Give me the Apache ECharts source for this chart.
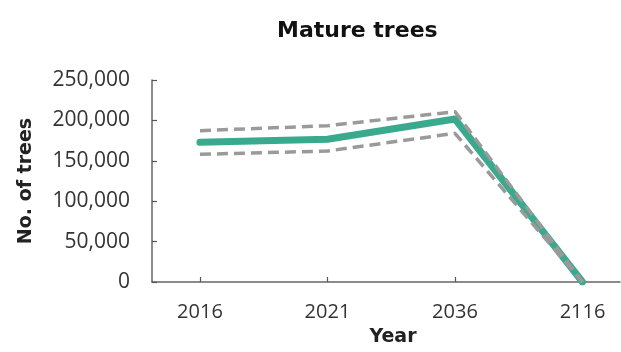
<!DOCTYPE html>
<html>
<head>
<meta charset="utf-8">
<script src="https://cdn.jsdelivr.net/npm/echarts@6/dist/echarts.min.js"></script>
<style>html,body{margin:0;padding:0;background:#fff}#c{width:621px;height:352px}</style>
</head>
<body>
<div id="c"></div>
<script>
var years = ['2016', '2021', '2036', '2116'];
var central = [172900, 176600, 201700, 0];
var upper = [187300, 193400, 210800, 0];
var lower = [158000, 162100, 184000, 0];
var yTicks = [0, 50000, 100000, 150000, 200000, 250000];

function pairs(arr) { return arr.map(function (v, i) { return [i, v]; }); }

var chart = echarts.init(document.getElementById('c'), null, { renderer: 'canvas' });
chart.setOption({
  animation: false,
  backgroundColor: '#fff',
  title: {
    text: 'Mature trees',
    left: 272, top: 15,
    textStyle: { fontFamily: 'DejaVu Sans', fontWeight: 'bold', fontSize: 22, color: '#111' }
  },
  grid: { left: 152, right: 1, top: 80, bottom: 70 },
  xAxis: {
    type: 'value', min: -0.376, max: 3.294,
    name: 'Year', nameLocation: 'middle', nameGap: 46,
    nameTextStyle: { fontFamily: 'DejaVu Sans', fontWeight: 'bold', fontSize: 19, color: '#222', padding: [0, 0, 0, 14] },
    splitLine: { show: false },
    axisLine: { show: true, onZero: false, lineStyle: { color: '#666', width: 1.5 } },
    axisTick: { show: true, inside: true, length: 5, customValues: [0, 1, 2, 3], lineStyle: { color: '#555', width: 1.2 } },
    axisLabel: {
      customValues: [0, 1, 2, 3], margin: 20,
      fontFamily: 'Open Sans', fontSize: 20, color: '#333',
      formatter: function (v) { return years[Math.round(v)]; }
    }
  },
  yAxis: {
    type: 'value', min: 0, max: 250000, interval: 50000,
    name: 'No. of trees', nameLocation: 'middle', nameGap: 116,
    nameTextStyle: { fontFamily: 'DejaVu Sans', fontWeight: 'bold', fontSize: 19, color: '#222' },
    splitLine: { show: false },
    axisLine: { show: true, onZero: false, lineStyle: { color: '#666', width: 1.5 } },
    axisTick: { show: true, inside: true, length: 5, lineStyle: { color: '#555', width: 1.2 } },
    axisLabel: {
      margin: 22, fontFamily: 'Open Sans', fontSize: 21, color: '#333',
      formatter: function (v) { return v.toLocaleString('en-US'); }
    }
  },
  series: [
    {
      type: 'line', data: pairs(central), symbol: 'none', z: 2,
      lineStyle: { color: '#3aaa8e', width: 7, cap: 'round', join: 'round' }
    },
    {
      type: 'line', data: pairs(upper), symbol: 'none', z: 3,
      lineStyle: { color: '#9a9a9a', width: 3.5, type: [11, 6] }
    },
    {
      type: 'line', data: pairs(lower), symbol: 'none', z: 3,
      lineStyle: { color: '#9a9a9a', width: 3.5, type: [11, 6] }
    }
  ]
});
</script>
</body>
</html>
